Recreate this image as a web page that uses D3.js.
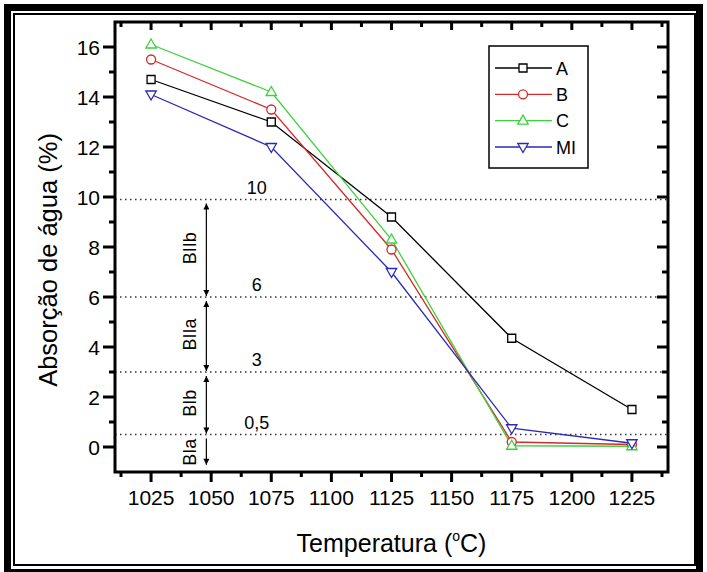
<!DOCTYPE html>
<html>
<head>
<meta charset="utf-8">
<script src="https://cdn.jsdelivr.net/npm/d3@7"></script>
<style>
  html, body { margin: 0; padding: 0; background: #fff; }
  svg { display: block; }
  text { font-family: "Liberation Sans", Arial, sans-serif; fill: #000; }
</style>
</head>
<body>
<div id="chart"></div>
<script>
// ---------- data ----------
const categories = [1025, 1075, 1125, 1175, 1225];
const seriesNames = ["A", "B", "C", "MI"];
const valuesA  = [14.7, 13.0, 9.2, 4.35, 1.5];
const valuesB  = [15.5, 13.5, 7.9, 0.2, 0.1];
const valuesC  = [16.1, 14.2, 8.3, 0.05, 0.03];
const valuesMI = [14.1, 12.0, 7.0, 0.75, 0.15];
const xTickValues = [1025, 1050, 1075, 1100, 1125, 1150, 1175, 1200, 1225];
const xMinorTicks = [1012.5, 1037.5, 1062.5, 1087.5, 1112.5, 1137.5, 1162.5, 1187.5, 1212.5, 1237.5];
const yTickValues = [0, 2, 4, 6, 8, 10, 12, 14, 16];
const yMinorTicks = [1, 3, 5, 7, 9, 11, 13, 15];
const limitValues = [9.9, 6, 3, 0.5];
const limitLabels = ["10", "6", "3", "0,5"];
const classNames  = ["BIIb", "BIIa", "BIb", "BIa"];
const classTop    = [9.9, 6, 3, 0.5];
const classBottom = [6, 3, 0.5, -0.75];
const classHasTopArrow = [true, true, true, false];
const xTitle = "Temperatura (";
const yTitle = "Absorção de água (%)";

// ---------- layout ----------
const W = 707, H = 572;
const L = 115, R = 668, T = 22, B = 472;

const svg = d3.select("#chart").append("svg").attr("width", W).attr("height", H);

// outer frames
svg.append("rect").attr("x", 7.5).attr("y", 7.5).attr("width", 692).attr("height", 565)
  .attr("fill", "none").attr("stroke", "#000").attr("stroke-width", 7);
svg.append("rect").attr("x", 14).attr("y", 14).attr("width", 681).attr("height", 551)
  .attr("fill", "none").attr("stroke", "#000").attr("stroke-width", 2);

const x = d3.scaleLinear().domain([1010, 1240]).range([L, R]);
const y = d3.scaleLinear().domain([-1, 17]).range([B, T]);

// dotted limit lines
svg.append("g").selectAll("line").data(limitValues).join("line")
  .attr("x1", L).attr("x2", R)
  .attr("y1", d => y(d)).attr("y2", d => y(d))
  .attr("stroke", "#333").attr("stroke-width", 1.6)
  .attr("stroke-dasharray", "1.5,3.5");

svg.append("g").selectAll("text").data(limitValues).join("text")
  .attr("x", x(1069)).attr("y", d => y(d) - 6)
  .attr("text-anchor", "middle").attr("font-size", 18)
  .text((d, i) => limitLabels[i]);

// class arrows
const defs = svg.append("defs");
defs.append("marker").attr("id", "ah").attr("viewBox", "0 0 10 10")
  .attr("refX", 10).attr("refY", 5).attr("markerWidth", 8).attr("markerHeight", 6)
  .attr("markerUnits", "userSpaceOnUse").attr("orient", "auto-start-reverse")
  .append("path").attr("d", "M0,0 L10,5 L0,10 Z").attr("fill", "#000");

const arrowX = x(1048);
const cls = svg.append("g");
classNames.forEach((name, i) => {
  const y1 = y(classTop[i]) + 4, y2 = y(classBottom[i]) - 1;
  const ln = cls.append("line").attr("x1", arrowX).attr("x2", arrowX)
    .attr("y1", y1).attr("y2", y2)
    .attr("stroke", "#000").attr("stroke-width", 1.2)
    .attr("marker-end", "url(#ah)");
  if (classHasTopArrow[i]) ln.attr("marker-start", "url(#ah)");
  const cy = (y(classTop[i]) + y(classBottom[i])) / 2 + (classHasTopArrow[i] ? 0 : 2);
  cls.append("text")
    .attr("transform", `translate(${x(1043.5)},${cy}) rotate(-90)`)
    .attr("text-anchor", "middle").attr("font-size", 18)
    .text(name);
});

// axes ticks
const axG = svg.append("g");
function tickLines(vals, fn) {
  axG.append("g").selectAll("line").data(vals).join("line")
    .each(function(d) { const c = fn(d); d3.select(this).attr("x1", c[0]).attr("y1", c[1]).attr("x2", c[2]).attr("y2", c[3]); })
    .attr("stroke", "#000").attr("stroke-width", 3);
}
// bottom (outward)
tickLines(xTickValues, d => [x(d), B, x(d), B + 10]);
tickLines(xMinorTicks, d => [x(d), B, x(d), B + 5]);
// top (inward)
tickLines(xTickValues, d => [x(d), T, x(d), T + 8]);
tickLines(xMinorTicks, d => [x(d), T, x(d), T + 5]);
// left (outward)
tickLines(yTickValues, d => [L, y(d), L - 12, y(d)]);
tickLines(yMinorTicks, d => [L, y(d), L - 6, y(d)]);
// right (inward)
tickLines(yTickValues, d => [R, y(d), R - 11, y(d)]);
tickLines(yMinorTicks, d => [R, y(d), R - 6, y(d)]);

// frame
svg.append("rect").attr("x", L).attr("y", T).attr("width", R - L).attr("height", B - T)
  .attr("fill", "none").attr("stroke", "#000").attr("stroke-width", 3);

// tick labels
svg.append("g").selectAll("text").data(xTickValues).join("text")
  .attr("x", d => x(d)).attr("y", B + 33)
  .attr("text-anchor", "middle").attr("font-size", 21)
  .text(d => d);
svg.append("g").selectAll("text").data(yTickValues).join("text")
  .attr("x", L - 15).attr("y", d => y(d) + 7.5)
  .attr("text-anchor", "end").attr("font-size", 21)
  .text(d => d);

// titles
const xt = svg.append("text").attr("x", (L + R) / 2).attr("y", 552)
  .attr("text-anchor", "middle").attr("font-size", 25);
xt.append("tspan").text(xTitle);
xt.append("tspan").attr("font-size", 14).attr("dy", -11).text("o");
xt.append("tspan").attr("dy", 11).text("C)");

svg.append("text")
  .attr("transform", `translate(57,260) rotate(-90)`)
  .attr("text-anchor", "middle").attr("font-size", 25.5)
  .text(yTitle);

// series
const colors = ["#000000", "#d42a2a", "#3cd23c", "#2a2ab4"];
const allValues = [valuesA, valuesB, valuesC, valuesMI];
const shapes = ["square", "circle", "up", "down"];

function markerPath(shape) {
  if (shape === "square") return "M-4,-4H4V4H-4Z";
  if (shape === "circle") return "M4.5,0A4.5,4.5 0 1,1 -4.5,0A4.5,4.5 0 1,1 4.5,0Z";
  if (shape === "up") return "M0,-5.5L5.2,3.5L-5.2,3.5Z";
  return "M0,5.5L5.2,-3.5L-5.2,-3.5Z";
}

const line = d3.line().x(d => x(d[0])).y(d => y(d[1]));
const seriesG = svg.append("g");
allValues.forEach((vals, i) => {
  const pts = categories.map((c, j) => [c, vals[j]]);
  seriesG.append("path").datum(pts).attr("d", line)
    .attr("fill", "none").attr("stroke", colors[i]).attr("stroke-width", 1.3);
});
allValues.forEach((vals, i) => {
  const pts = categories.map((c, j) => [c, vals[j]]);
  seriesG.append("g").selectAll("path").data(pts).join("path")
    .attr("transform", d => `translate(${x(d[0])},${y(d[1])})`)
    .attr("d", markerPath(shapes[i]))
    .attr("fill", "#fff").attr("stroke", colors[i]).attr("stroke-width", 1.3);
});

// legend
const lg = svg.append("g");
lg.append("rect").attr("x", 489).attr("y", 46).attr("width", 99).attr("height", 122)
  .attr("fill", "#fff").attr("stroke", "#000").attr("stroke-width", 1.5);
const legY = d3.scalePoint().domain(seriesNames).range([68, 147]);
seriesNames.forEach((name, i) => {
  const yy = legY(name);
  lg.append("line").attr("x1", 495).attr("x2", 552).attr("y1", yy).attr("y2", yy)
    .attr("stroke", colors[i]).attr("stroke-width", 1.3);
  lg.append("path").attr("transform", `translate(523,${yy})`).attr("d", markerPath(shapes[i]))
    .attr("fill", "#fff").attr("stroke", colors[i]).attr("stroke-width", 1.3);
  lg.append("text").attr("x", 556).attr("y", yy + 6.5).attr("font-size", 18).text(name);
});
</script>
</body>
</html>
